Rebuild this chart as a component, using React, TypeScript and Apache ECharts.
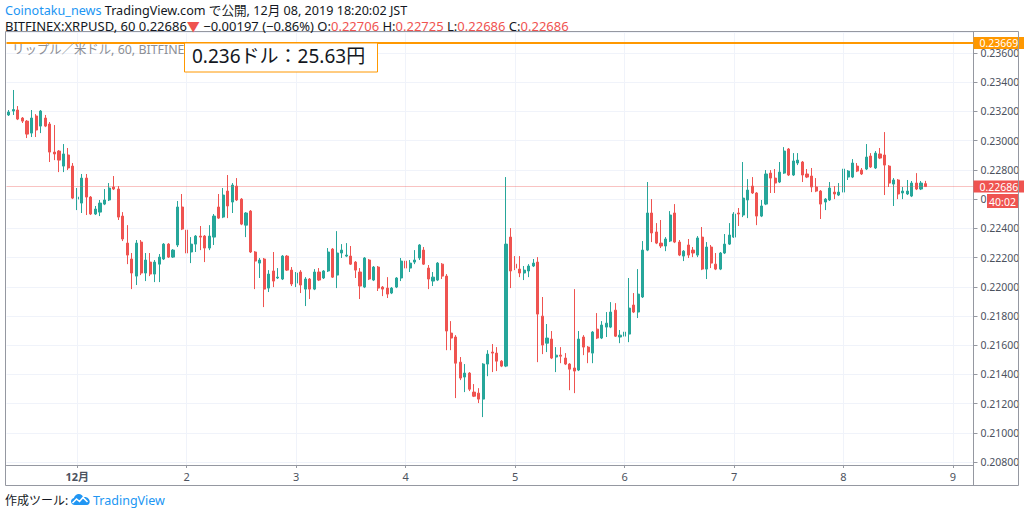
import React, { useEffect, useRef } from "react";
import * as echarts from "echarts";

// ---- time axis ----
const startHourUTC = Date.UTC(2019, 10, 30, 9); // 2019-11-30 09:00 (JST shown as is)
const categoryCount = 212;
const dayLabels = ["12月", "2", "3", "4", "5", "6", "7", "8", "9"];

// ---- XRPUSD 60 min candles ----
const opens = [
  0.23176, 0.23203, 0.2321, 0.23155, 0.23134, 0.23052, 0.23169, 0.231, 0.23155, 0.23114,
  0.22922, 0.22929, 0.22826, 0.22902, 0.22826, 0.226, 0.22573, 0.22744, 0.22614, 0.22498,
  0.22511, 0.22566, 0.22594, 0.22683, 0.22669, 0.22484, 0.22299, 0.2219, 0.22073, 0.22306,
  0.22094, 0.22169, 0.22087, 0.22155, 0.2219, 0.22292, 0.22203, 0.22286, 0.22546, 0.22388,
  0.22238, 0.22292, 0.22347, 0.22347, 0.22265, 0.2234, 0.22546, 0.22477, 0.22655, 0.2258,
  0.22689, 0.226, 0.22422, 0.22518, 0.22238, 0.22162, 0.2219, 0.21991, 0.22108, 0.2206,
  0.22053, 0.2221, 0.22114, 0.22025, 0.22101, 0.21984, 0.22053, 0.21984, 0.22101, 0.2206,
  0.22108, 0.22258, 0.2208, 0.22231, 0.2221, 0.2221, 0.22169, 0.22101, 0.21998, 0.22183,
  0.22046, 0.22135, 0.21998, 0.21991, 0.21957, 0.21998, 0.2206, 0.22176, 0.22128, 0.22169,
  0.22197, 0.22251, 0.22128, 0.22039, 0.22046, 0.22155, 0.22073, 0.21683, 0.21656, 0.21484,
  0.21382, 0.21409, 0.21279, 0.21272, 0.21231, 0.21471, 0.21553, 0.21546, 0.21491, 0.21457,
  0.2234, 0.22155, 0.22121, 0.22094, 0.22108, 0.22142, 0.22169, 0.21799, 0.21614, 0.21642,
  0.21519, 0.21532, 0.21512, 0.21471, 0.21444, 0.2143, 0.21656, 0.21587, 0.21546, 0.2171,
  0.21649, 0.21724, 0.21724, 0.2184, 0.21656, 0.21662, 0.21676, 0.21875, 0.21827, 0.2193,
  0.22251, 0.22505, 0.22375, 0.22299, 0.22279, 0.22313, 0.22505, 0.22306, 0.2221, 0.22286,
  0.22251, 0.22217, 0.2234, 0.22121, 0.22272, 0.22155, 0.22121, 0.22231, 0.22292, 0.2234,
  0.22505, 0.22491, 0.22594, 0.22689, 0.22642, 0.22484, 0.22566, 0.22778, 0.22744, 0.22717,
  0.22778, 0.22943, 0.22765, 0.22847, 0.22854, 0.22772, 0.22758, 0.22683, 0.22655, 0.2258,
  0.22594, 0.22648, 0.22628, 0.22648, 0.22751, 0.22751, 0.22826, 0.22799, 0.22806, 0.22895,
  0.22813, 0.22909, 0.22902, 0.22826, 0.22703, 0.22731, 0.22642, 0.22635, 0.22621, 0.2271,
  0.22669, 0.22706,
];
const closes = [
  0.23196, 0.23213, 0.23148, 0.23134, 0.23045, 0.23155, 0.23073, 0.23203, 0.231, 0.22922,
  0.22909, 0.22867, 0.22909, 0.22813, 0.22607, 0.22614, 0.22744, 0.22614, 0.22498, 0.22532,
  0.22573, 0.22594, 0.22676, 0.22669, 0.22477, 0.22327, 0.22217, 0.22094, 0.22299, 0.22094,
  0.22183, 0.22087, 0.22169, 0.22203, 0.22292, 0.22203, 0.22251, 0.22546, 0.22395, 0.22231,
  0.22292, 0.22347, 0.2234, 0.22265, 0.22347, 0.22484, 0.2247, 0.22628, 0.22553, 0.22696,
  0.22594, 0.22429, 0.22505, 0.22238, 0.22176, 0.22183, 0.21984, 0.22087, 0.22039, 0.22066,
  0.2221, 0.22114, 0.22019, 0.22094, 0.22012, 0.22053, 0.21984, 0.22101, 0.22046, 0.22108,
  0.22238, 0.22066, 0.22231, 0.22251, 0.22217, 0.22155, 0.22114, 0.22005, 0.22197, 0.22053,
  0.22135, 0.21991, 0.21984, 0.2195, 0.21991, 0.2206, 0.22176, 0.22128, 0.22162, 0.22183,
  0.22286, 0.22155, 0.22053, 0.22066, 0.22162, 0.22073, 0.21697, 0.21649, 0.21477, 0.21375,
  0.21409, 0.21299, 0.21251, 0.21231, 0.21471, 0.21539, 0.21546, 0.21491, 0.21457, 0.22292,
  0.22108, 0.22128, 0.22094, 0.22114, 0.22142, 0.22162, 0.21813, 0.21601, 0.21649, 0.21512,
  0.21532, 0.21525, 0.21471, 0.21436, 0.21423, 0.21642, 0.21587, 0.21553, 0.2169, 0.21649,
  0.21738, 0.21751, 0.21827, 0.21662, 0.21669, 0.2169, 0.21854, 0.21827, 0.2195, 0.22251,
  0.22505, 0.22368, 0.22299, 0.22279, 0.22327, 0.22491, 0.22306, 0.22217, 0.22244, 0.22217,
  0.22231, 0.22334, 0.22121, 0.22272, 0.22162, 0.22121, 0.22231, 0.22292, 0.22354, 0.22498,
  0.22498, 0.22607, 0.22662, 0.22642, 0.22484, 0.22553, 0.22772, 0.22744, 0.2271, 0.22785,
  0.22929, 0.22765, 0.22861, 0.22867, 0.22765, 0.22751, 0.22683, 0.22655, 0.22566, 0.226,
  0.22676, 0.22635, 0.22648, 0.22806, 0.22792, 0.22847, 0.22792, 0.22772, 0.22888, 0.2282,
  0.22915, 0.22881, 0.22833, 0.2271, 0.22731, 0.22635, 0.22655, 0.22655, 0.2271, 0.22669,
  0.2271, 0.22686,
];
const lows = [
  0.23169, 0.23176, 0.23141, 0.23121, 0.23018, 0.23025, 0.23025, 0.23052, 0.23093, 0.22854,
  0.22867, 0.22785, 0.22785, 0.22799, 0.226, 0.22525, 0.22505, 0.22491, 0.22491, 0.22491,
  0.22484, 0.22559, 0.22587, 0.22662, 0.22457, 0.22313, 0.22155, 0.21984, 0.22012, 0.2208,
  0.22039, 0.22073, 0.22032, 0.22032, 0.22183, 0.22197, 0.22197, 0.22272, 0.22388, 0.22155,
  0.22162, 0.22238, 0.22251, 0.22169, 0.22251, 0.22286, 0.22464, 0.2247, 0.2247, 0.22505,
  0.22587, 0.22422, 0.2234, 0.22231, 0.21984, 0.2206, 0.21861, 0.21964, 0.21998, 0.22053,
  0.22046, 0.22108, 0.22005, 0.21998, 0.21957, 0.21868, 0.21916, 0.21977, 0.22039, 0.22053,
  0.22101, 0.2206, 0.21991, 0.22197, 0.22203, 0.22149, 0.2206, 0.21916, 0.21991, 0.22046,
  0.22039, 0.21971, 0.21936, 0.21923, 0.2195, 0.21991, 0.22039, 0.22101, 0.22101, 0.22155,
  0.22183, 0.22149, 0.21984, 0.22005, 0.22039, 0.22053, 0.21566, 0.21566, 0.21238, 0.21361,
  0.21279, 0.21286, 0.21245, 0.21204, 0.21108, 0.21388, 0.21416, 0.21423, 0.2145, 0.2145,
  0.21991, 0.22114, 0.22066, 0.22046, 0.22066, 0.22135, 0.21484, 0.21539, 0.21553, 0.21505,
  0.21416, 0.21477, 0.21464, 0.21292, 0.21272, 0.21423, 0.21532, 0.21477, 0.21477, 0.21642,
  0.21642, 0.21656, 0.21717, 0.21656, 0.21614, 0.21525, 0.21621, 0.2182, 0.21786, 0.21923,
  0.22244, 0.22306, 0.22292, 0.22265, 0.22244, 0.22306, 0.22299, 0.2221, 0.22176, 0.22197,
  0.22203, 0.22203, 0.22114, 0.22053, 0.22128, 0.22114, 0.22114, 0.22224, 0.22286, 0.22334,
  0.22416, 0.22477, 0.2247, 0.22635, 0.22422, 0.22477, 0.22559, 0.22642, 0.22642, 0.2271,
  0.22772, 0.22758, 0.22758, 0.22833, 0.22717, 0.22744, 0.22648, 0.22648, 0.22464, 0.22525,
  0.22587, 0.226, 0.22621, 0.22642, 0.22731, 0.22744, 0.22785, 0.22765, 0.22799, 0.22813,
  0.22806, 0.22874, 0.22628, 0.22683, 0.22553, 0.226, 0.226, 0.22628, 0.22614, 0.22662,
  0.22662, 0.22686,
];
const highs = [
  0.2321, 0.23347, 0.23237, 0.23162, 0.23141, 0.2321, 0.23182, 0.2321, 0.23176, 0.23128,
  0.23107, 0.22936, 0.22977, 0.2295, 0.22847, 0.22676, 0.22772, 0.22772, 0.22621, 0.22553,
  0.22594, 0.22669, 0.2271, 0.22758, 0.22689, 0.22511, 0.22422, 0.22231, 0.2232, 0.2232,
  0.22231, 0.22231, 0.22183, 0.22224, 0.22299, 0.22299, 0.22258, 0.22587, 0.22635, 0.22395,
  0.2234, 0.22354, 0.22416, 0.22354, 0.22422, 0.22498, 0.22635, 0.22676, 0.22765, 0.2271,
  0.22744, 0.22607, 0.22511, 0.22525, 0.22244, 0.22197, 0.22197, 0.22114, 0.22238, 0.22128,
  0.22217, 0.22217, 0.22135, 0.22101, 0.22114, 0.22066, 0.2206, 0.22121, 0.22128, 0.22114,
  0.22265, 0.22265, 0.22381, 0.22292, 0.22299, 0.22279, 0.22176, 0.22128, 0.22203, 0.2219,
  0.22142, 0.22142, 0.22005, 0.22066, 0.21998, 0.22066, 0.22197, 0.22183, 0.22183, 0.22251,
  0.22292, 0.22272, 0.22149, 0.22101, 0.22169, 0.22162, 0.22087, 0.21765, 0.21669, 0.21519,
  0.21471, 0.21416, 0.21334, 0.21306, 0.21477, 0.21566, 0.21608, 0.21587, 0.21498, 0.22751,
  0.22402, 0.2221, 0.2221, 0.22142, 0.22155, 0.2219, 0.22203, 0.2193, 0.21745, 0.21697,
  0.21587, 0.21587, 0.21546, 0.21477, 0.21984, 0.21697, 0.21669, 0.21594, 0.21697, 0.2182,
  0.21765, 0.21827, 0.21895, 0.21888, 0.21704, 0.2171, 0.2206, 0.21957, 0.22121, 0.22313,
  0.22717, 0.226, 0.22436, 0.22457, 0.2234, 0.22518, 0.22566, 0.2232, 0.22251, 0.22327,
  0.22272, 0.22347, 0.22409, 0.22306, 0.22286, 0.22231, 0.22238, 0.22361, 0.22436, 0.22511,
  0.22539, 0.22854, 0.22737, 0.22751, 0.22648, 0.22594, 0.22799, 0.22799, 0.22806, 0.22854,
  0.22956, 0.2295, 0.22915, 0.22915, 0.22861, 0.22806, 0.22813, 0.22744, 0.22662, 0.22607,
  0.22717, 0.22689, 0.2271, 0.22895, 0.22799, 0.22874, 0.22847, 0.22813, 0.22977, 0.22915,
  0.22929, 0.2295, 0.23059, 0.22833, 0.22744, 0.22737, 0.22683, 0.22731, 0.22724, 0.22778,
  0.22724, 0.22725,
];

const lastPrice = 0.22686;
const alertPrice = 0.23669;
const priceMin = 0.2078;
const priceMax = 0.23744;

const UP = "#26a69a";
const DOWN = "#ef5350";
const ORANGE = "#ff9800";
const AXIS = "#9598a1";
const LABEL = "#4c525e";
const GRID = "#f0f3fa";
const FONT = "'Noto Sans', 'Noto Sans CJK JP', sans-serif";

const hours: number[] = [];
const categories: string[] = [];
for (let i = 0; i < categoryCount; i++) {
  const d = new Date(startHourUTC + i * 3600 * 1000);
  hours.push(d.getUTCHours());
  categories.push(
    `${d.getUTCMonth() + 1}/${d.getUTCDate()} ${String(d.getUTCHours()).padStart(2, "0")}:00`
  );
}
const dayIndexes = hours.map((h, i) => (h === 0 ? i : -1)).filter((i) => i >= 0);
const dayLabelOf: Record<string, string> = {};
dayIndexes.forEach((idx, k) => {
  dayLabelOf[categories[idx]] = dayLabels[k];
});
const isDay = (index: number) => hours[index] === 0;

const logoPath =
  "M5 14 C2 14 0 12 0 9.5 C0 7.3 1.6 5.5 3.7 5.1 C4.4 2.2 7 0 10 0 C12.7 0 15 1.7 15.9 4.1 C16.5 3.9 17.1 3.8 17.7 3.8 C21.2 3.8 24 6.6 24 10 C24 12.2 22.5 14 20.5 14 Z";
let registered = false;

export default function App() {
  const ref = useRef<HTMLDivElement>(null);
  useEffect(() => {
    if (!ref.current) return;
    if (!registered) {
      echarts.graphic.registerShape("tvlogo", echarts.graphic.extendPath(logoPath, {}));
      registered = true;
    }
    const chart = echarts.init(ref.current, undefined, { renderer: "svg" });
    const candleData = opens.map((o, i) => [o, closes[i], lows[i], highs[i]]);
    const badge = (bg: string, v: number) => ({
      show: true,
      position: "end",
      distance: 0,
      formatter: () => v.toFixed(5),
      color: "#ffffff",
      backgroundColor: bg,
      padding: [1, 6, 1, 6],
      lineHeight: 10,
      fontSize: 10.5,
      fontFamily: FONT,
    });
    chart.setOption({
      animation: false,
      backgroundColor: "#ffffff",
      grid: { left: 6.5, right: 50.5, top: 32, bottom: 49, containLabel: false },
      xAxis: {
        type: "category",
        data: categories,
        boundaryGap: true,
        axisLine: { show: true, lineStyle: { color: AXIS, width: 1 } },
        axisTick: {
          show: true,
          alignWithLabel: true,
          interval: (index: number) => isDay(index),
          length: 3,
          lineStyle: { color: AXIS },
        },
        axisLabel: {
          interval: (index: number) => isDay(index),
          formatter: (value: string) => {
            const l = dayLabelOf[value] || "";
            return l === "12月" ? `{b|${l}}` : l;
          },
          color: LABEL,
          fontSize: 11,
          fontFamily: FONT,
          margin: 6,
          rich: { b: { fontWeight: "bold", color: LABEL, fontSize: 11, fontFamily: FONT } },
        },
        splitLine: { show: false },
      },
      yAxis: {
        type: "value",
        position: "right",
        min: priceMin,
        max: priceMax,
        splitNumber: 15,
        minInterval: 0.002,
        maxInterval: 0.002,
        axisLine: { show: true, lineStyle: { color: AXIS, width: 1 } },
        axisTick: { show: true, length: 4, lineStyle: { color: AXIS } },
        axisLabel: {
          formatter: (v: number) => v.toFixed(5),
          color: LABEL,
          fontSize: 10.5,
          lineHeight: 8,
          fontFamily: FONT,
          margin: 7,
          showMinLabel: false,
          showMaxLabel: false,
        },
        splitLine: { show: true, lineStyle: { color: GRID, width: 1 } },
      },
      series: [
        {
          type: "candlestick",
          data: candleData,
          barWidth: 2.6,
          itemStyle: {
            color: UP,
            color0: DOWN,
            borderColor: UP,
            borderColor0: DOWN,
            borderWidth: 1,
          },
          markLine: {
            silent: true,
            symbol: ["none", "none"],
            animation: false,
            precision: 5,
            data: [
              ...dayIndexes.map((idx) => ({
                xAxis: categories[idx],
                lineStyle: { color: GRID, width: 1, type: "solid" },
                label: { show: false },
              })),
              {
                yAxis: lastPrice,
                lineStyle: { color: "rgba(239,83,80,0.35)", width: 1, type: "solid" },
                label: badge(DOWN, lastPrice),
              },
              {
                yAxis: alertPrice,
                lineStyle: { color: ORANGE, width: 2, type: "solid" },
                label: badge(ORANGE, alertPrice),
              },
            ],
          },
        },
      ],
      graphic: [
        {
          type: "rect",
          z: 100,
          silent: true,
          shape: { x: 5.5, y: 31.5, width: 1013, height: 454 },
          style: { fill: "none", stroke: AXIS, lineWidth: 1 },
        },
        {
          type: "line",
          z: 100,
          silent: true,
          shape: { x1: 973.5, y1: 465, x2: 973.5, y2: 486 },
          style: { stroke: AXIS, lineWidth: 1 },
        },
        {
          type: "text",
          z: 100,
          x: 5,
          y: 10,
          style: {
            text: "{b|Coinotaku_news} TradingView.com で公開, 12月 08, 2019 18:20:02 JST",
            fill: "#131722",
            font: `12.6px ${FONT}`,
            lineHeight: 13,
            verticalAlign: "middle",
            rich: { b: { fill: "#2196f3", font: `12.6px ${FONT}`, lineHeight: 13 } },
          },
        },
        {
          type: "text",
          z: 100,
          x: 5,
          y: 25.5,
          style: {
            text:
              "BITFINEX:XRPUSD, 60 0.22686{r|▼} −0.00197 (−0.86%) O:{r|0.22706} H:{r|0.22725} L:{r|0.22686} C:{r|0.22686}",
            fill: "#131722",
            font: `13px ${FONT}`,
            lineHeight: 13,
            verticalAlign: "middle",
            rich: { r: { fill: DOWN, font: `13px ${FONT}`, lineHeight: 13 } },
          },
        },
        {
          type: "text",
          z: 50,
          x: 12,
          y: 49,
          style: {
            text: "リップル／米ドル, 60, BITFINEX",
            fill: "#8c8f96",
            font: `12.4px ${FONT}`,
            verticalAlign: "middle",
          },
        },
        {
          type: "rect",
          z: 60,
          shape: { x: 184.5, y: 43, width: 193, height: 29 },
          style: { fill: "#ffffff", stroke: ORANGE, lineWidth: 1 },
        },
        {
          type: "text",
          z: 61,
          x: 192,
          y: 56,
          style: {
            text: "0.236ドル：25.63円",
            fill: "#131722",
            font: `19px ${FONT}`,
            verticalAlign: "middle",
          },
        },
        {
          type: "rect",
          z: 110,
          shape: { x: 987, y: 194, width: 31, height: 14 },
          style: { fill: DOWN },
        },
        {
          type: "text",
          z: 111,
          x: 1002.5,
          y: 201.5,
          style: {
            text: "40:02",
            fill: "#ffffff",
            font: `10.5px ${FONT}`,
            align: "center",
            verticalAlign: "middle",
          },
        },
        {
          type: "text",
          z: 100,
          x: 5,
          y: 500,
          style: {
            text: "作成ツール:",
            fill: "#131722",
            font: `12px ${FONT}`,
            verticalAlign: "middle",
          },
        },
        {
          type: "tvlogo",
          z: 100,
          x: 71,
          y: 494,
          scaleX: 0.78,
          scaleY: 0.78,
          style: { fill: "#2196f3" },
        },
        {
          type: "polyline",
          z: 101,
          shape: { points: [[72.5, 503], [76.5, 499], [79.5, 501.5], [83, 497.5], [87.5, 502]] },
          style: { stroke: "#ffffff", lineWidth: 1.6, fill: "none" },
        },
        {
          type: "text",
          z: 100,
          x: 93,
          y: 500,
          style: {
            text: "TradingView",
            fill: "#2196f3",
            font: `12.5px ${FONT}`,
            verticalAlign: "middle",
          },
        },
      ],
    });
    return () => chart.dispose();
  }, []);
  return (
    <div
      ref={ref}
      style={{ position: "absolute", left: 0, top: 0, width: 1024, height: 514, background: "#fff" }}
    />
  );
}
